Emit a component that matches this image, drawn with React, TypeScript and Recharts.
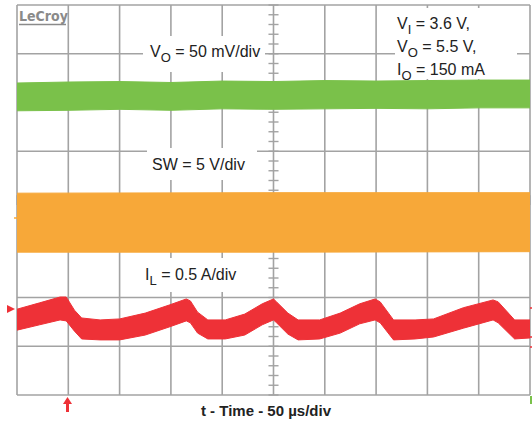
import React from 'react'
import { ComposedChart, Area, XAxis, YAxis, CartesianGrid, ReferenceLine } from 'recharts'

// time in µs (50 µs/div), amplitude in screen divisions (0 = bottom of the grid)
const timeTicks = [0, 50, 100, 150, 200, 250, 300, 350, 400, 450, 500]
const divTicks = [0, 1, 2, 3, 4, 5, 6, 7, 8]

const voTime = [0, 50, 100, 150, 200, 250, 300, 350, 400, 450, 500]
const voHigh = [6.40, 6.42, 6.43, 6.41, 6.44, 6.43, 6.45, 6.44, 6.45, 6.46, 6.46]
const voLow = [5.83, 5.84, 5.86, 5.84, 5.87, 5.86, 5.87, 5.88, 5.87, 5.89, 5.89]

const swTime = [0, 250, 500]
const swHigh = [4.14, 4.15, 4.15]
const swLow = [2.93, 2.93, 2.94]

const ilTime = [0, 22, 42, 48, 56, 63, 81, 100, 125, 149, 165, 169, 176, 186, 203, 222, 239, 250, 253, 264, 274, 295, 315, 334, 349, 354, 367, 388, 406, 435, 464, 469, 485, 500]
const ilHigh = [1.76, 1.89, 2.01, 2.01, 1.74, 1.58, 1.54, 1.56, 1.68, 1.85, 1.97, 1.93, 1.70, 1.54, 1.54, 1.66, 1.87, 1.97, 1.91, 1.68, 1.54, 1.54, 1.68, 1.87, 1.97, 1.91, 1.54, 1.54, 1.56, 1.79, 1.95, 1.91, 1.54, 1.54]
const ilLow = [1.33, 1.44, 1.54, 1.52, 1.31, 1.15, 1.13, 1.13, 1.23, 1.40, 1.52, 1.48, 1.27, 1.15, 1.15, 1.23, 1.44, 1.54, 1.48, 1.25, 1.13, 1.15, 1.27, 1.46, 1.54, 1.48, 1.13, 1.15, 1.19, 1.37, 1.54, 1.48, 1.15, 1.17]

const GREEN = '#7ac14a'
const ORANGE = '#f7a839'
const RED = '#ee3137'
const GRID = '#a3a3a3'
const FONT = '"Liberation Sans", Arial, sans-serif'

const rows = new Map<number, any>()
const put = (t: number, key: string, v: number[]) => {
  const r = rows.get(t) ?? { t }
  r[key] = v
  rows.set(t, r)
}
voTime.forEach((t, i) => put(t, 'vo', [voLow[i], voHigh[i]]))
swTime.forEach((t, i) => put(t, 'sw', [swLow[i], swHigh[i]]))
ilTime.forEach((t, i) => put(t, 'il', [ilLow[i], ilHigh[i]]))
const data = [...rows.values()].sort((a, b) => a.t - b.t)

// minor ticks on the centre cross
const minorOnTime = Array.from({ length: 41 }, (_, i) => i * 0.2)
const minorOnDiv = Array.from({ length: 51 }, (_, i) => i * 10)

const W = 532
const H = 425
const MARGIN = { top: 5, right: 2, bottom: 30, left: 17 }
const layer: React.CSSProperties = { position: 'absolute', left: 0, top: 0 }

export default function App() {
  return (
    <div style={{ position: 'absolute', left: 0, top: 0, width: W, height: H, background: '#fff' }}>
      {/* graticule underneath */}
      <div style={layer}>
        <ComposedChart width={W} height={H} data={data} margin={MARGIN}>
          <CartesianGrid stroke={GRID} strokeWidth={1.6} />
          <XAxis dataKey="t" type="number" domain={[0, 500]} ticks={timeTicks} hide />
          <YAxis type="number" domain={[0, 8]} ticks={divTicks} allowDataOverflow hide />
          <Area dataKey="sw" type="linear" connectNulls stroke="none" fill="none" isAnimationActive={false} />
          {minorOnTime.map((y) => (
            <ReferenceLine key={'a' + y} segment={[{ x: 245.1, y }, { x: 254.9, y }]} stroke={GRID} strokeWidth={1.4} />
          ))}
          {minorOnDiv.map((x) => (
            <ReferenceLine key={'b' + x} segment={[{ x, y: 3.9 }, { x, y: 4.1 }]} stroke={GRID} strokeWidth={1.4} />
          ))}
        </ComposedChart>
      </div>
      {/* traces on top */}
      <div style={layer}>
        <ComposedChart width={W} height={H} data={data} margin={MARGIN}>
          <XAxis dataKey="t" type="number" domain={[0, 500]} ticks={timeTicks} hide />
          <YAxis type="number" domain={[0, 8]} ticks={divTicks} allowDataOverflow hide />
          <Area dataKey="vo" type="linear" connectNulls stroke={GREEN} strokeWidth={1} fill={GREEN} fillOpacity={1} isAnimationActive={false} />
          <Area dataKey="sw" type="linear" connectNulls stroke={ORANGE} strokeWidth={1} fill={ORANGE} fillOpacity={1} isAnimationActive={false} />
          <Area dataKey="il" type="linear" connectNulls stroke={RED} strokeWidth={1} fill={RED} fillOpacity={1} isAnimationActive={false} />
        </ComposedChart>
      </div>
      <svg width={W} height={H} style={{ ...layer, pointerEvents: 'none' }}>
        <g fontFamily={FONT} fontSize={16} fill="#222">
          <rect x={143} y={36} width={122} height={36} fill="#fff" />
          <text x={150} y={57}>
            V<tspan fontSize={13} dy={5}>O</tspan><tspan dy={-5}> = 50 mV/div</tspan>
          </text>
          <rect x={147} y={148} width={110} height={32} fill="#fff" />
          <text x={152} y={170}>SW = 5 V/div</text>
          <rect x={140} y={258} width={104} height={34} fill="#fff" />
          <text x={145} y={280}>
            I<tspan fontSize={13} dy={5}>L</tspan><tspan dy={-5}> = 0.5 A/div</tspan>
          </text>
          <rect x={395} y={8} width={122} height={71} fill="#fff" />
          <text x={397} y={29}>
            V<tspan fontSize={13} dy={5}>I</tspan><tspan dy={-5}> = 3.6 V,</tspan>
          </text>
          <text x={397} y={52}>
            V<tspan fontSize={13} dy={5}>O</tspan><tspan dy={-5}> = 5.5 V,</tspan>
          </text>
          <text x={397} y={75}>
            I<tspan fontSize={13} dy={5}>O</tspan><tspan dy={-5}> = 150 mA</tspan>
          </text>
          <text x={266} y={416} textAnchor="middle" fontSize={15} fontWeight="bold">
            t - Time - 50 µs/div
          </text>
        </g>
        <text x={19} y={21} fontFamily='"DejaVu Sans Condensed", "DejaVu Sans", sans-serif' fontStretch="condensed" fontWeight="bold" fontSize={14} fill="#8a8a8a">
          LeCroy
        </text>
        <line x1={19} y1={24.5} x2={66} y2={24.5} stroke="#8a8a8a" strokeWidth={1.3} />
        <polygon points="7,305 15,309 7,313" fill={RED} />
        <line x1={14} y1={218} x2={17} y2={218} stroke={ORANGE} strokeWidth={1.5} />
        <line x1={530} y1={308} x2={532} y2={308} stroke={RED} strokeWidth={1.5} />
        <line x1={530} y1={337} x2={532} y2={337} stroke={RED} strokeWidth={1.5} />
        <line x1={530} y1={347} x2={532} y2={347} stroke={RED} strokeWidth={1.5} />
        <line x1={531} y1={396} x2={531} y2={404} stroke={GREEN} strokeWidth={2} />
        <line x1={67.5} y1={403} x2={67.5} y2={412} stroke={RED} strokeWidth={3} />
        <polygon points="63,404 67.5,397 72,404" fill={RED} />
      </svg>
    </div>
  )
}
